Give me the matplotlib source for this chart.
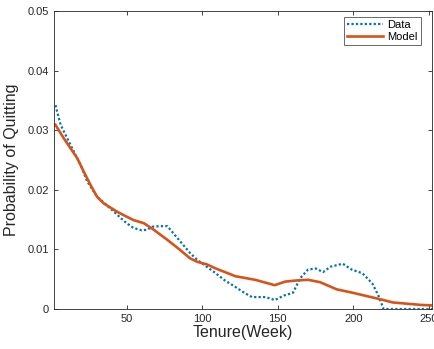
import matplotlib.pyplot as plt
import numpy as np

plt.rcParams["font.family"] = ["Liberation Sans", "DejaVu Sans"]

# tenure (weeks) and quit probability
data_x = [3, 6.4, 13, 19.6, 24, 30.6, 37, 46, 50, 54.6, 60, 63.7, 67, 72, 77, 81, 86, 92,
          97, 103, 109, 115, 122, 128, 133, 142, 148, 154.5, 160, 165, 170, 175, 180,
          185, 193, 199, 206, 212.5, 216.5, 220, 230, 240, 252]
data_y = [0.0342, 0.0309, 0.0275, 0.0242, 0.0214, 0.0188, 0.0174, 0.0153, 0.0144, 0.0136,
          0.0132, 0.0133, 0.0138, 0.0139, 0.0139, 0.0127, 0.0112, 0.0094, 0.0082,
          0.0071, 0.0060, 0.0048, 0.0037, 0.0027, 0.0020, 0.0020, 0.0015, 0.0023,
          0.0027, 0.0052, 0.0066, 0.0068, 0.0062, 0.0071, 0.0076, 0.0066, 0.0060,
          0.0043, 0.0023, 0.0, 0.0, 0.0, 0.0]

model_x = [3, 8.6, 17.4, 21.8, 26.2, 30.6, 35, 43.9, 50, 54.8, 61.4, 68, 77, 85, 92, 97,
           103, 109, 115, 122, 135, 148, 155, 163, 170, 178, 189, 200, 210, 220, 226,
           235, 244, 252]
model_y = [0.0309, 0.0286, 0.0253, 0.0230, 0.0208, 0.0188, 0.0177, 0.0163, 0.0155, 0.0149,
           0.0144, 0.0133, 0.0116, 0.0100, 0.0085, 0.0079, 0.0075, 0.0068, 0.0062,
           0.0055, 0.0049, 0.0040, 0.0046, 0.0048, 0.0049, 0.0045, 0.0033, 0.0027,
           0.0021, 0.0015, 0.0011, 0.0009, 0.0007, 0.0006]

xticks = [50, 100, 150, 200, 250]
yticks = [0, 0.01, 0.02, 0.03, 0.04, 0.05]

fig = plt.figure(figsize=(4.35, 3.49), dpi=100)
ax = fig.add_axes([0.124, 0.1146, 0.869, 0.854])

ax.plot(data_x, data_y, color="#0072BD", linestyle=(0, (1, 1)), linewidth=1.6, label="Data")
ax.plot(model_x, model_y, color="#D95319", linestyle="-", linewidth=1.9, label="Model")

ax.set_xlim(2, 252)
ax.set_ylim(0, 0.05)
ax.set_xticks(xticks)
ax.set_xticklabels([str(t) for t in xticks])
ax.set_yticks(yticks)
ax.set_yticklabels(["0", "0.01", "0.02", "0.03", "0.04", "0.05"])
ax.tick_params(direction="in", top=True, right=True, labelsize=8, colors="#262626",
               length=3, width=0.6)
for s in ax.spines.values():
    s.set_color("#262626")
    s.set_linewidth(0.6)

ax.set_xlabel("Tenure(Week)", fontsize=11.5, color="#262626", labelpad=1)
ax.set_ylabel("Probability of Quitting", fontsize=11.5, color="#262626", labelpad=6)

leg = ax.legend(loc="upper right", fontsize=8, frameon=True, fancybox=False,
                edgecolor="#262626", handlelength=3.2, borderaxespad=0.5,
                bbox_to_anchor=(0.985, 1.0),
                borderpad=0.3, labelspacing=0.2, handletextpad=0.4)
leg.get_frame().set_linewidth(0.6)

fig.savefig("out.png", dpi=100)
